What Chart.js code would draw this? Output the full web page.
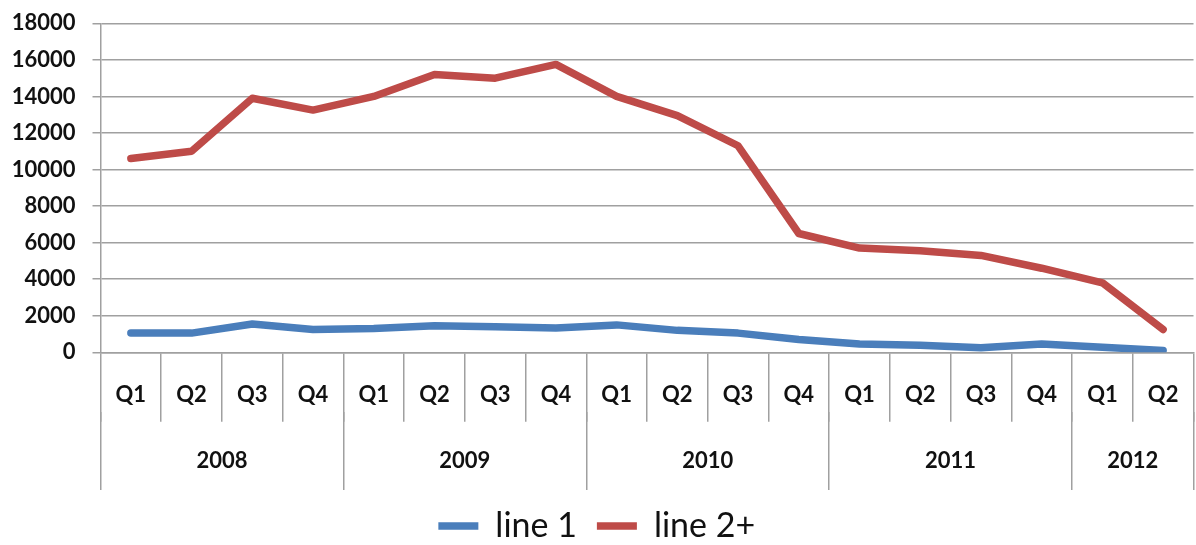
<!DOCTYPE html>
<html>
<head>
<meta charset="utf-8">
<script src="https://cdn.jsdelivr.net/npm/chart.js@4"></script>
<style>
  html, body { margin: 0; padding: 0; background: #ffffff; }
  #wrap { width: 1196px; height: 545px; }
</style>
</head>
<body>
<div id="wrap"><canvas id="c" width="1196" height="545"></canvas></div>
<script>
// ---- data ----
const quarters = ['Q1','Q2','Q3','Q4','Q1','Q2','Q3','Q4','Q1','Q2','Q3','Q4','Q1','Q2','Q3','Q4','Q1','Q2'];
const years = ['2008','2009','2010','2011','2012'];
const quartersPerYear = [4, 4, 4, 4, 2];
const line1 = [1050, 1050, 1550, 1250, 1300, 1450, 1400, 1330, 1500, 1200, 1050, 700, 450, 380, 250, 450, 280, 100];
const line2 = [10600, 11000, 13900, 13250, 14000, 15200, 15000, 15750, 14000, 12950, 11300, 6500, 5700, 5550, 5300, 4600, 3800, 1250];
const seriesNames = ['line 1', 'line 2+'];
const yTicks = [0, 2000, 4000, 6000, 8000, 10000, 12000, 14000, 16000, 18000];

// ---- year axis ticks (boundaries + centres) ----
const yearBoundaries = [-0.5];
const yearCentres = new Map();
quartersPerYear.reduce((start, n, i) => {
  yearCentres.set(start + n / 2 - 0.5, years[i]);
  yearBoundaries.push(start + n - 0.5);
  return start + n;
}, 0);
const yearTickValues = [...yearBoundaries, ...yearCentres.keys()].sort((a, b) => a - b);

const GRID = '#a0a0a0';
const TEXT = '#111111';

function draw() {
  Chart.defaults.font.family = 'Lato, "Open Sans", sans-serif';
  Chart.defaults.color = TEXT;
  new Chart(document.getElementById('c'), {
    type: 'line',
    data: {
      labels: quarters,
      datasets: [
        { label: seriesNames[0], data: line1, borderColor: '#4A7EBB', backgroundColor: '#4A7EBB',
          borderWidth: 7.5, pointRadius: 0, tension: 0, borderJoinStyle: 'round', borderCapStyle: 'round', clip: 0 },
        { label: seriesNames[1], data: line2, borderColor: '#BE4B48', backgroundColor: '#BE4B48',
          borderWidth: 7.5, pointRadius: 0, tension: 0, borderJoinStyle: 'round', borderCapStyle: 'round', clip: 0 }
      ]
    },
    options: {
      responsive: false,
      animation: false,
      devicePixelRatio: 1,
      layout: { padding: { top: 23.3, left: 0, right: 2.5, bottom: -8 } },
      plugins: {
        tooltip: { enabled: false },
        legend: {
          position: 'bottom',
          labels: {
            usePointStyle: true,
            pointStyle: 'line',
            pointStyleWidth: 40,
            padding: 20,
            color: TEXT,
            font: { size: 34, weight: '400' }
          }
        }
      },
      scales: {
        y: {
          min: 0, max: 18000,
          afterFit: s => { s.width = 100.5; s.paddingTop = 0; s.paddingBottom = 0; },
          afterBuildTicks: s => { s.ticks = yTicks.map(v => ({ value: v })); },
          border: { display: true, color: GRID, width: 1.5 },
          grid: { color: GRID, lineWidth: 1.5, tickLength: 8 },
          ticks: { padding: 17, font: { size: 22, weight: 'bold' }, callback: v => String(v) }
        },
        x: {
          type: 'category',
          offset: true,
          weight: 0,
          afterFit: s => { s.height = 60; },
          border: { display: true, color: GRID, width: 1.5 },
          grid: { offset: true, drawOnChartArea: false, color: GRID, lineWidth: 1.5, tickLength: 69.5 },
          ticks: { autoSkip: false, maxRotation: 0, padding: -40, font: { size: 22, weight: 'bold' } }
        },
        x2: {
          type: 'linear',
          position: 'bottom',
          weight: 1,
          min: -0.5, max: 17.5,
          afterFit: s => { s.height = 76.7; },
          afterBuildTicks: s => { s.ticks = yearTickValues.map(v => ({ value: v })); },
          border: { display: false },
          grid: {
            drawOnChartArea: false, lineWidth: 1.5, tickLength: 77.7,
            color: ctx => (ctx.tick && yearBoundaries.includes(ctx.tick.value)) ? GRID : 'rgba(0,0,0,0)'
          },
          ticks: {
            autoSkip: false, maxRotation: 0, padding: -42,
            font: { size: 22, weight: 'bold' },
            callback: v => yearCentres.get(v) || ''
          }
        }
      }
    }
  });
}

Promise.all([
  document.fonts.load('bold 22px Lato'),
  document.fonts.load('400 34px Lato')
]).then(draw, draw);
</script>
</body>
</html>
